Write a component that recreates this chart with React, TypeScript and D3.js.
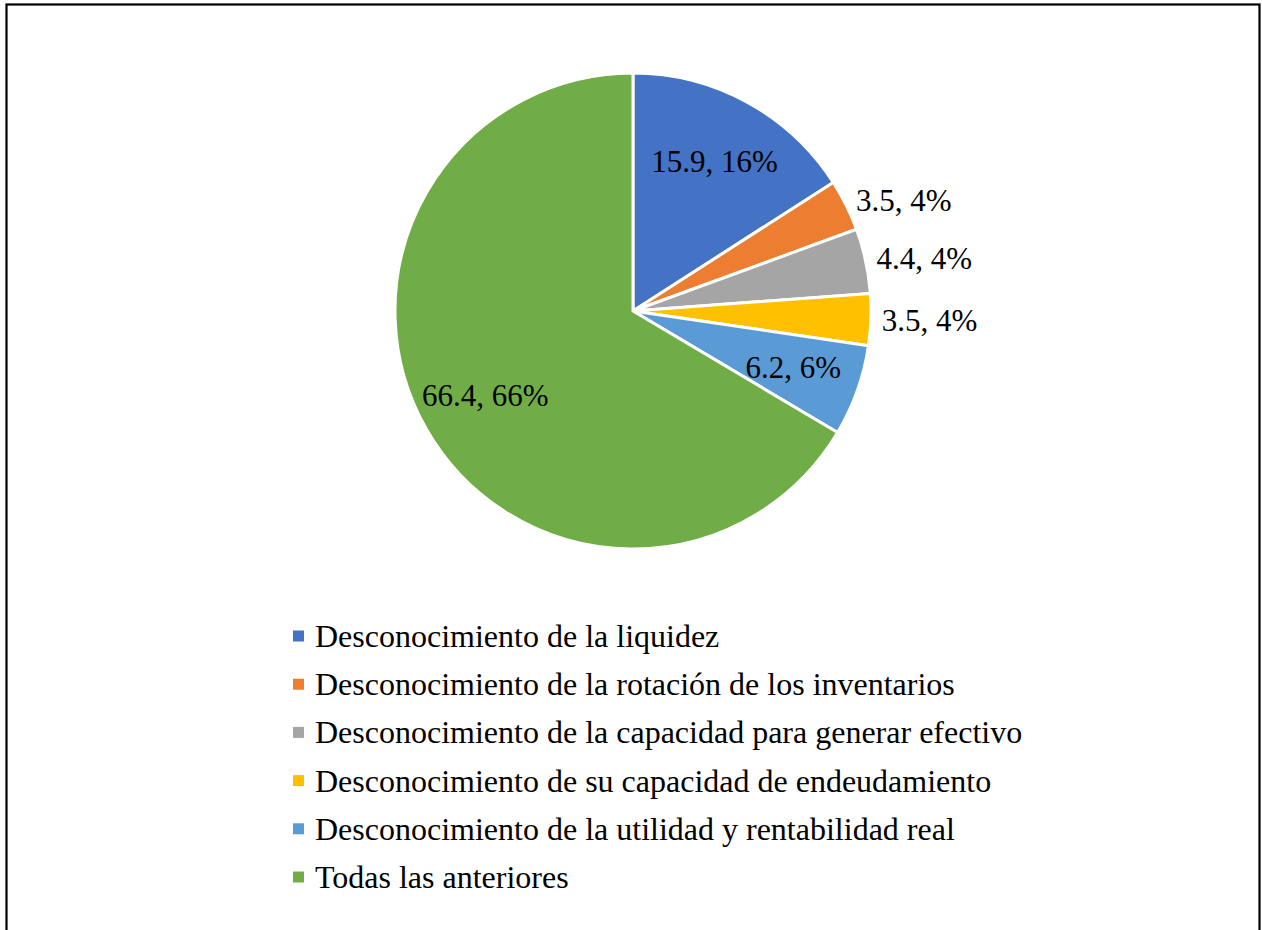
import React from "react";
import * as d3 from "d3";

const categories = [
  "Desconocimiento de la liquidez",
  "Desconocimiento de la rotación de los inventarios",
  "Desconocimiento de la capacidad para generar efectivo",
  "Desconocimiento de su capacidad de endeudamiento",
  "Desconocimiento de la utilidad y rentabilidad real",
  "Todas las anteriores",
];
const values = [15.9, 3.5, 4.4, 3.5, 6.2, 66.4];
const percentLabels = ["16%", "4%", "4%", "4%", "6%", "66%"];
const colors = ["#4472C4", "#ED7D31", "#A5A5A5", "#FFC000", "#5B9BD5", "#70AD47"];

const W = 1262;
const H = 930;
const cx = 633;
const cy = 311;
const R = 238;

export default function App() {
  const pie = d3.pie<number>().sort(null).value((d) => d)(values);
  const arc = d3.arc<d3.PieArcDatum<number>>().innerRadius(0).outerRadius(R);
  const inArc = d3.arc<d3.PieArcDatum<number>>().innerRadius(170).outerRadius(170);
  const outArc = d3.arc<d3.PieArcDatum<number>>().innerRadius(R + 11).outerRadius(R + 11);
  const font = "'Liberation Serif', 'Times New Roman', serif";
  const legendY = d3.scaleLinear().domain([0, 5]).range([636, 877]);

  return (
    <svg width={W} height={H} style={{ position: "absolute", left: 0, top: 0 }}>
      <rect x={0} y={0} width={W} height={H} fill="#fff" />
      <rect x={6.5} y={4.5} width={1253} height={940} fill="none" stroke="#000" strokeWidth={2.2} />
      <g transform={`translate(${cx},${cy})`}>
        {pie.map((p, i) => (
          <path key={i} d={arc(p) || ""} fill={colors[i]} stroke="#fff" strokeWidth={3} strokeLinejoin="round" />
        ))}
        {pie.map((p, i) => {
          const outside = values[i] < 5;
          const [x, y] = (outside ? outArc : inArc).centroid(p);
          return (
            <text
              key={i}
              x={x}
              y={y}
              textAnchor={outside ? "start" : "middle"}
              dominantBaseline="central"
              fontFamily={font}
              fontSize={31}
              fill="#000"
            >
              {`${values[i]}, ${percentLabels[i]}`}
            </text>
          );
        })}
      </g>
      {categories.map((c, i) => (
        <g key={i} transform={`translate(0,${legendY(i)})`}>
          <rect x={293} y={-5.5} width={11} height={11} fill={colors[i]} />
          <text x={315} y={0} dominantBaseline="central" fontFamily={font} fontSize={32} fill="#000">
            {c}
          </text>
        </g>
      ))}
    </svg>
  );
}
